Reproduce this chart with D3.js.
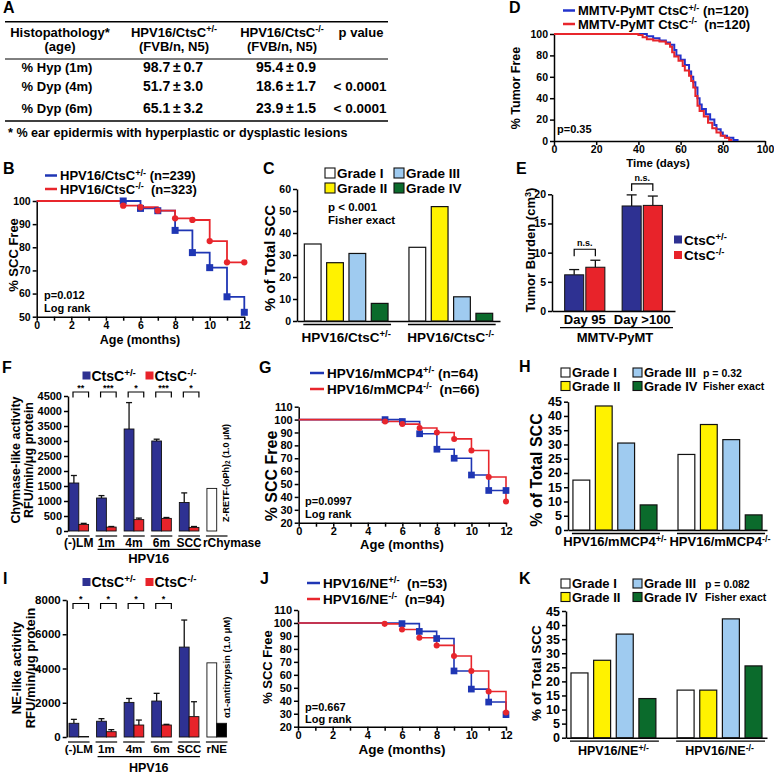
<!DOCTYPE html>
<html>
<head>
<meta charset="utf-8">
<script src="https://cdn.jsdelivr.net/npm/d3@7/dist/d3.min.js"></script>
<style>
html,body{margin:0;padding:0;background:#fff;}
svg{display:block;}
text{font-family:"Liberation Sans",Arial,Helvetica,sans-serif;font-weight:bold;}
</style>
</head>
<body>
<svg id="fig" width="774" height="774" viewBox="0 0 774 774"></svg>
<script>
// ================= DATA =================
// A: histopathology table
const tableHeader1 = ["Histopathology*", "HPV16/CtsC^{+/-}", "HPV16/CtsC^{-/-}", "p value"];
const tableHeader2 = ["(age)", "(FVB/n, N5)", "(FVB/n, N5)", ""];
const tableRowLabels = ["% Hyp (1m)", "% Dyp (4m)", "% Dyp (6m)"];
const tableHetMean = [98.7, 51.7, 65.1];
const tableHetSem = [0.7, 3.0, 3.2];
const tableKoMean = [95.4, 18.6, 23.9];
const tableKoSem = [0.9, 1.7, 1.5];
const tablePValues = ["", "< 0.0001", "< 0.0001"];
const tableFootnote = "* % ear epidermis with hyperplastic or dysplastic lesions";

// shared tick values
const monthTicks = [0,1,2,3,4,5,6,7,8,9,10,11,12];
const scc50Ticks = [50,60,70,80,90,100];
const scc20Ticks = [20,30,40,50,60,70,80,90,100,110];
const pctTicks = [0,20,40,60,80,100];

// B: SCC-free survival, CtsC
const bNames = ["HPV16/CtsC^{+/-} (n=239)", "HPV16/CtsC^{-/-}\u00a0 (n=323)"];
const bMonths = [5,6,7,8,9,10,11,12];
const bHetFree = [100, 96.8, 95.8, 87.3, 77.7, 71.2, 58.6, 51.9];
const bKoFree = [98, 97.3, 95.8, 92.5, 91.8, 82.7, 73.5, 73.5];
const bStats = ["p=0.012", "Log rank"];

// C: SCC grades, CtsC
const gradeNames = ["Grade I", "Grade II", "Grade III", "Grade IV"];
const cGroups = ["HPV16/CtsC^{+/-}", "HPV16/CtsC^{-/-}"];
const cHet = [35, 26.5, 30.7, 8];
const cKo = [33.5, 52, 11, 3.5];
const cTicks = [0,10,20,30,40,50,60];
const cStats = ["p < 0.001", "Fisher exact"];

// D: MMTV-PyMT tumor free
const dNames = ["MMTV-PyMT CtsC^{+/-} (n=120)", "MMTV-PyMT CtsC^{-/-}\u00a0 (n=120)"];
const dHetDays = [44,47,50,53,55,57,58,60,62,64,65,66,67,68,69,70,72,74,76,77,79,80,82,85,87];
const dHetFree = [98,96,94,92,90,85,80,76,71,65,60,55,50,40,34,30,25,20,15,11,8,5,3,1,0];
const dKoDays = [40,42,44,47,50,53,55,56,57,59,61,62,64,65,66,67,68,69,71,73,75,77,79,81,83,84];
const dKoFree = [99,97,95,94,93,91,88,83,79,75,70,66,61,56,50,42,33,28,23,17,12,8,5,3,1,0];
const dStats = ["p=0.35"];

// E: tumor burden
const eGroups = ["Day 95", "Day >100"];
const eHet = [6.2, 18.0];
const eHetErr = [0.9, 1.9];
const eKo = [7.5, 18.1];
const eKoErr = [1.2, 1.6];
const eTicks = [0,5,10,15,20];
const eSig = ["n.s.", "n.s."];
const eLegend = ["CtsC^{+/-}", "CtsC^{-/-}"];

// F: chymase-like activity
const actCats = ["(-)LM", "1m", "4m", "6m", "SCC"];
const fHet = [1600, 1100, 3400, 3000, 950];
const fHetErr = [250, 80, 880, 60, 320];
const fKo = [220, 130, 380, 420, 120];
const fKoErr = [35, 20, 50, 30, 30];
const fStars = ["**", "***", "*", "***", "*"];
const fRefName = "rChymase";
const fRefValue = 1420;
const fRefInhibited = 0;
const fRefNote = "Z-RETF-(oPh)_{2} (1.0 μM)";
const fTicks = [0,500,1000,1500,2000,2500,3000,3500,4000,4500];

// G: SCC-free survival, mMCP4
const gNames = ["HPV16/mMCP4^{+/-} (n=64)", "HPV16/mMCP4^{-/-}\u00a0 (n=66)"];
const gMonths = [5,6,7,8,9,10,11,12];
const gHetFree = [100, 98.5, 89, 77, 70, 57, 45, 45];
const gKoFree = [98.5, 96.5, 93.5, 90, 85, 76, 55.5, 36.5];
const gStats = ["p=0.0997", "Log rank"];

// H: SCC grades, mMCP4
const hGroups = ["HPV16/mMCP4^{+/-}", "HPV16/mMCP4^{-/-}"];
const hHet = [17.5, 43.5, 30.5, 8.8];
const hKo = [26.5, 37, 31.7, 5.3];
const gradeTicks45 = [0,5,10,15,20,25,30,35,40,45];
const hStats = ["p = 0.32", "Fisher exact"];

// I: NE-like activity
const iHet = [800, 920, 2020, 2100, 5250];
const iHetErr = [230, 150, 230, 450, 1580];
const iKo = [30, 310, 700, 700, 1190];
const iKoErr = [0, 120, 290, 40, 870];
const iStars = ["*", "*", "*", "*", ""];
const iRefName = "rNE";
const iRefValue = 4330;
const iRefInhibited = 800;
const iRefNote = "α1-antitrypsin (1.0 μM)";
const iTicks = [0,2000,4000,6000,8000];

// J: SCC-free survival, NE
const jNames = ["HPV16/NE^{+/-}\u00a0 (n=53)", "HPV16/NE^{-/-}\u00a0 (n=94)"];
const jHetMonths = [6,7,8,9,10,11,12];
const jHetFree = [99.5, 93.5, 88, 63, 49, 39, 29.3];
const jKoMonths = [5,6,7,8,9,10,11,12];
const jKoFree = [99.3, 95, 88.6, 82.7, 74.5, 63, 47.2, 31];
const jStats = ["p=0.667", "Log rank"];

// K: SCC grades, NE
const kGroups = ["HPV16/NE^{+/-}", "HPV16/NE^{-/-}"];
const kHet = [23, 27.5, 36.8, 13.9];
const kKo = [16.9, 16.9, 42.2, 25.5];
const kStats = ["p = 0.082", "Fisher exact"];

// ================= STYLE =================
const KM_BLUE = "#1f36b4", KM_RED = "#e8262c";
const BAR_BLUE = "#2e3192", BAR_RED = "#e8232a";
const GRADE_COLORS = ["#ffffff", "#fff200", "#9fcbf0", "#0b6b2c"];

const svg = d3.select("#fig");

function addRich(t, str, fs) {
  const parts = str.split(/(\^\{[^}]*\}|_\{[^}]*\})/).filter(s => s.length);
  let cur = 0;
  parts.forEach(p => {
    let target = 0, txt = p, size = null;
    if (p.startsWith("^{")) { target = -0.34 * fs; txt = p.slice(2, -1); size = fs * 0.7; }
    else if (p.startsWith("_{")) { target = 0.22 * fs; txt = p.slice(2, -1); size = fs * 0.7; }
    const ts = t.append("tspan").text(txt);
    if (size) ts.attr("font-size", size);
    const dy = target - cur;
    if (dy !== 0) ts.attr("dy", dy);
    cur = target;
  });
}
function label(x, y, str, o = {}) {
  const fs = o.fs || 12;
  const t = svg.append("text").attr("x", x).attr("y", y).attr("font-size", fs)
    .attr("text-anchor", o.anchor || "start").attr("fill", o.fill || "#000");
  if (o.rot) t.attr("transform", `rotate(${o.rot},${x},${y})`);
  addRich(t, str, fs);
  return t;
}
function hline(x1, x2, y, w = 1.2, c = "#000") {
  svg.append("line").attr("x1", x1).attr("x2", x2).attr("y1", y).attr("y2", y).attr("stroke", c).attr("stroke-width", w);
}
function styleAxis(g, fs) {
  g.attr("font-size", fs).attr("font-family", null);
  g.select(".domain").attr("stroke", "#000").attr("stroke-width", 1.5);
  g.selectAll(".tick line").attr("stroke", "#000").attr("stroke-width", 1.5);
  g.selectAll(".tick text").attr("fill", "#000");
  g.selectAll(".tick text").filter(function () { return this.textContent === ""; }).remove();
}
function axisLeftAt(x, scale, ticks, fs, fmt) {
  const g = svg.append("g").attr("transform", `translate(${x},0)`)
    .call(d3.axisLeft(scale).tickValues(ticks).tickSize(4).tickSizeOuter(0).tickPadding(2).tickFormat(fmt || (d => String(d))));
  styleAxis(g, fs); return g;
}
function axisBottomAt(y, scale, ticks, fs, fmt, pad) {
  const g = svg.append("g").attr("transform", `translate(0,${y})`)
    .call(d3.axisBottom(scale).tickValues(ticks).tickSize(4).tickSizeOuter(0).tickPadding(pad === undefined ? 2 : pad).tickFormat(fmt || (d => String(d))));
  styleAxis(g, fs); return g;
}
function panelLetter(x, y, s) { label(x, y, s, { fs: 16 }); }

// ================= A: TABLE =================
panelLetter(3, 13, "A");
(function () {
  const colX = [60, 174, 282, 361];
  hline(5, 388, 21.7, 1.6);
  tableHeader1.forEach((h, i) => label(colX[i], 36.5, h, { fs: 13, anchor: "middle" }));
  tableHeader2.forEach((h, i) => { if (h) label(colX[i], 51, h, { fs: 13, anchor: "middle" }); });
  hline(5, 388, 59, 1);
  const rowY = [72, 91, 113];
  tableRowLabels.forEach((r, i) => {
    label(57, rowY[i], r, { fs: 13, anchor: "middle" });
    label(173, rowY[i], `${tableHetMean[i].toFixed(1)}\u2009±\u2009${tableHetSem[i].toFixed(1)}`, { fs: 14, anchor: "middle" });
    label(286, rowY[i], `${tableKoMean[i].toFixed(1)}\u2009±\u2009${tableKoSem[i].toFixed(1)}`, { fs: 14, anchor: "middle" });
    if (tablePValues[i]) label(360, rowY[i], tablePValues[i], { fs: 13.5, anchor: "middle" });
  });
  hline(5, 388, 121, 1.6);
  label(8, 137, tableFootnote, { fs: 12.6 });
})();

// ================= KM panels =================
function kmPanel(c) {
  const x = d3.scaleLinear().domain(c.xDomain).range([c.left, c.right]);
  const y = d3.scaleLinear().domain(c.yDomain).range([c.bottom, c.top]);
  axisBottomAt(c.bottom, x, c.xTicks, c.tickFs, d => (c.labelEvery && d % c.labelEvery) ? "" : String(d), 1);
  axisLeftAt(c.left, y, c.yTicks, c.tickFs);
  const line = d3.line().x(d => x(d[0])).y(d => y(d[1])).curve(d3.curveStepAfter);
  c.series.forEach(s => {
    const pts = [[c.xDomain[0], 100]].concat(s.t.map((t, i) => [t, s.v[i]]));
    svg.append("path").attr("d", line(pts)).attr("fill", "none").attr("stroke", s.color).attr("stroke-width", c.lw);
  });
  c.series.forEach(s => {
    if (!s.marker) return;
    s.t.forEach((t, i) => {
      if (s.marker === "square")
        svg.append("rect").attr("x", x(t) - c.ms / 2).attr("y", y(s.v[i]) - c.ms / 2)
          .attr("width", c.ms).attr("height", c.ms).attr("fill", s.color);
      else
        svg.append("circle").attr("cx", x(t)).attr("cy", y(s.v[i])).attr("r", c.ms * 0.45).attr("fill", s.color);
    });
  });
  c.series.forEach((s, i) => {
    const ly = c.legendY[i];
    hline(c.legendX[0], c.legendX[1], ly, 2.5, s.color);
    label(c.legendX[1] + 3, ly + c.legendFs * 0.36, s.name, { fs: c.legendFs });
  });
  c.stats.forEach((s, i) => label(c.statsX, c.statsY[i], s, { fs: c.statsFs }));
  label(c.yLabelX, c.yLabelY, c.yLabel, { fs: c.yLabelFs, anchor: "middle", rot: -90 });
  label(c.xLabelX, c.xLabelY, c.xLabel, { fs: c.xLabelFs, anchor: "middle" });
}

panelLetter(3, 174, "B");
kmPanel({
  left: 36.7, right: 244.3, top: 201, bottom: 316.7, xDomain: [0, 12], yDomain: [50, 100],
  xTicks: monthTicks, labelEvery: 2, yTicks: scc50Ticks, tickFs: 10.5, lw: 1.8, ms: 7,
  series: [
    { name: bNames[0], t: bMonths, v: bHetFree, color: KM_BLUE, marker: "square" },
    { name: bNames[1], t: bMonths, v: bKoFree, color: KM_RED, marker: "circle" }],
  legendX: [45, 57], legendY: [175.5, 189], legendFs: 13,
  stats: bStats, statsX: 44, statsY: [299, 311.5], statsFs: 11,
  yLabel: "% SCC Free", yLabelX: 18, yLabelY: 255, yLabelFs: 13,
  xLabel: "Age (months)", xLabelX: 140, xLabelY: 343.5, xLabelFs: 12.5
});

panelLetter(509, 13, "D");
kmPanel({
  left: 554, right: 765, top: 34, bottom: 141, xDomain: [0, 100], yDomain: [0, 100],
  xTicks: pctTicks, yTicks: pctTicks, tickFs: 10.5, lw: 2, ms: 0,
  series: [
    { name: dNames[0], t: dHetDays, v: dHetFree, color: "#2233cc" },
    { name: dNames[1], t: dKoDays, v: dKoFree, color: KM_RED }],
  legendX: [563, 575], legendY: [10.5, 24], legendFs: 13,
  stats: dStats, statsX: 557, statsY: [133], statsFs: 11,
  yLabel: "% Tumor Free", yLabelX: 520, yLabelY: 88, yLabelFs: 12.5,
  xLabel: "Time (days)", xLabelX: 658, xLabelY: 167, xLabelFs: 11.5
});

panelLetter(259, 373, "G");
kmPanel({
  left: 298.7, right: 506, top: 406.7, bottom: 522.7, xDomain: [0, 12], yDomain: [20, 110],
  xTicks: monthTicks, labelEvery: 2, yTicks: scc20Ticks, tickFs: 11, lw: 1.6, ms: 6.7,
  series: [
    { name: gNames[0], t: gMonths, v: gHetFree, color: KM_BLUE, marker: "square" },
    { name: gNames[1], t: gMonths, v: gKoFree, color: KM_RED, marker: "circle" }],
  legendX: [310, 324], legendY: [373, 389], legendFs: 13.5,
  stats: gStats, statsX: 305, statsY: [505, 518], statsFs: 11,
  yLabel: "% SCC Free", yLabelX: 277, yLabelY: 476, yLabelFs: 16,
  xLabel: "Age (months)", xLabelX: 402, xLabelY: 549, xLabelFs: 13
});

panelLetter(260, 584, "J");
kmPanel({
  left: 298, right: 506, top: 610, bottom: 726.7, xDomain: [0, 12], yDomain: [20, 110],
  xTicks: monthTicks, labelEvery: 2, yTicks: scc20Ticks, tickFs: 11, lw: 1.6, ms: 6.7,
  series: [
    { name: jNames[0], t: jHetMonths, v: jHetFree, color: KM_BLUE, marker: "square" },
    { name: jNames[1], t: jKoMonths, v: jKoFree, color: KM_RED, marker: "circle" }],
  legendX: [307, 320], legendY: [583, 599], legendFs: 13.5,
  stats: jStats, statsX: 305, statsY: [711, 723], statsFs: 11,
  yLabel: "% SCC Free", yLabelX: 272, yLabelY: 667, yLabelFs: 13,
  xLabel: "Age (months)", xLabelX: 402, xLabelY: 754, xLabelFs: 13.5
});

// ================= Grade panels =================
function gradePanel(c) {
  const y = d3.scaleLinear().domain([0, c.yMax]).range([c.bottom, c.top]);
  const xg = d3.scaleBand().domain(c.groups).range([c.left, c.right]).paddingInner(0.2).paddingOuter(c.pO);
  const xb = d3.scaleBand().domain(gradeNames).range([0, xg.bandwidth()]).paddingInner(0.25);
  axisBottomAt(c.bottom, xg, [], c.tickFs);
  axisLeftAt(c.left, y, c.ticks, c.tickFs);
  c.groups.forEach((g, gi) => {
    const vals = c.values[gi];
    gradeNames.forEach((gr, i) => {
      svg.append("rect").attr("x", xg(g) + xb(gr)).attr("y", y(vals[i]))
        .attr("width", xb.bandwidth()).attr("height", y(0) - y(vals[i]))
        .attr("fill", GRADE_COLORS[i]).attr("stroke", "#111").attr("stroke-width", 1.2);
    });
    hline(xg(g) - 1, xg(g) + xg.bandwidth() + 3, c.bottom + 3.5, 1.3);
    label(xg(g) + xg.bandwidth() / 2, c.labelY, g, { fs: c.labelFs, anchor: "middle" });
  });
  gradeNames.forEach((gr, i) => {
    const bx = c.legendCols[Math.floor(i / 2)], by = c.legendRows[i % 2];
    svg.append("rect").attr("x", bx).attr("y", by - c.box / 2).attr("width", c.box).attr("height", c.box)
      .attr("fill", GRADE_COLORS[i]).attr("stroke", "#111").attr("stroke-width", 1.1);
    label(bx + c.box + 2, by + c.legendFs * 0.36, gr, { fs: c.legendFs });
  });
  c.stats.forEach((s, i) => label(c.statsX, c.statsY[i], s, { fs: c.statsFs }));
  label(c.yLabelX, c.yLabelY, "% of Total SCC", { fs: c.yLabelFs, anchor: "middle", rot: -90 });
}

panelLetter(263, 174, "C");
gradePanel({
  groups: cGroups, values: [cHet, cKo], yMax: 60, ticks: cTicks,
  left: 297, right: 500, top: 189, bottom: 321, pO: 0.07, tickFs: 10.5,
  labelY: 342, labelFs: 13.5,
  legendCols: [325, 394], legendRows: [173, 188], box: 10, legendFs: 13.5,
  stats: cStats, statsX: 328, statsY: [211, 223.5], statsFs: 11.5,
  yLabelX: 275, yLabelY: 258, yLabelFs: 15
});

panelLetter(519, 372, "H");
gradePanel({
  groups: hGroups, values: [hHet, hKo], yMax: 45, ticks: gradeTicks45,
  left: 568, right: 767, top: 401.7, bottom: 530, pO: 0.047, tickFs: 12.5,
  labelY: 546, labelFs: 13,
  legendCols: [561, 633], legendRows: [372.5, 386], box: 9, legendFs: 13,
  stats: hStats, statsX: 703, statsY: [377, 389.5], statsFs: 10.5,
  yLabelX: 542, yLabelY: 470, yLabelFs: 16
});

panelLetter(519, 584, "K");
gradePanel({
  groups: kGroups, values: [kHet, kKo], yMax: 45, ticks: gradeTicks45,
  left: 566, right: 767, top: 611, bottom: 737.7, pO: 0.047, tickFs: 12.5,
  labelY: 755, labelFs: 12.5,
  legendCols: [561, 633], legendRows: [583.5, 597], box: 9, legendFs: 13,
  stats: kStats, statsX: 705, statsY: [588, 600.5], statsFs: 10.5,
  yLabelX: 541, yLabelY: 673, yLabelFs: 13.5
});

// ================= E: tumor burden =================
panelLetter(516, 174, "E");
(function () {
  const y = d3.scaleLinear().domain([0, 20]).range([311, 194.3]);
  const xg = d3.scaleBand().domain(eGroups).range([552, 675]).paddingInner(0.3).paddingOuter(0.22);
  const xs = d3.scaleBand().domain(["het", "ko"]).range([0, xg.bandwidth()]).paddingInner(0.1);
  axisBottomAt(311, xg, [], 10.5);
  axisLeftAt(552, y, eTicks, 10.5);
  eGroups.forEach((g, i) => {
    const series = [["het", eHet[i], eHetErr[i], BAR_BLUE], ["ko", eKo[i], eKoErr[i], BAR_RED]];
    series.forEach(([k, v, e, col]) => {
      const cx = xg(g) + xs(k) + xs.bandwidth() / 2;
      svg.append("line").attr("x1", cx).attr("x2", cx).attr("y1", y(v)).attr("y2", y(v + e)).attr("stroke", "#111").attr("stroke-width", 1.3);
      hline(cx - 5, cx + 5, y(v + e), 1.3, "#111");
      svg.append("rect").attr("x", xg(g) + xs(k)).attr("y", y(v)).attr("width", xs.bandwidth()).attr("height", y(0) - y(v))
        .attr("fill", col).attr("stroke", "#111").attr("stroke-width", 1);
    });
    const c1 = xg(g) + xs("het") + xs.bandwidth() / 2, c2 = xg(g) + xs("ko") + xs.bandwidth() / 2;
    const top = y(Math.max(eHet[i] + eHetErr[i], eKo[i] + eKoErr[i])) - 11;
    svg.append("path").attr("d", `M${c1},${top + 7}V${top}H${c2}V${top + 7}`).attr("fill", "none").attr("stroke", "#000").attr("stroke-width", 1.2);
    label((c1 + c2) / 2, top - 3, eSig[i], { fs: 9, anchor: "middle" });
    label(xg(g) + xg.bandwidth() / 2, 323.5, g, { fs: 13, anchor: "middle" });
  });
  hline(560, 673, 327.7, 1.3);
  label(615, 341.5, "MMTV-PyMT", { fs: 13, anchor: "middle" });
  [BAR_BLUE, BAR_RED].forEach((col, i) => {
    const ly = 239.5 + i * 15.5;
    svg.append("rect").attr("x", 674).attr("y", ly - 4).attr("width", 8).attr("height", 8).attr("fill", col);
    label(684, ly + 5, eLegend[i], { fs: 13.5 });
  });
  label(535, 250, "Tumor Burden (cm^{3})", { fs: 13, anchor: "middle", rot: -90 });
})();

// ================= F & I: activity panels =================
function activityPanel(c) {
  const y = d3.scaleLinear().domain([0, c.yMax]).range([c.bottom, c.top]);
  const cats = actCats.concat([c.refName]);
  const xg = d3.scaleBand().domain(cats).range([68, 227.5]).paddingInner(0.29).paddingOuter(0.036);
  const xs = d3.scaleBand().domain(["het", "ko"]).range([0, xg.bandwidth()]);
  axisLeftAt(c.axisX, y, c.ticks, c.tickFs);
  function bar(cat, k, v, e, col) {
    const x0 = xg(cat) + xs(k), cx = x0 + xs.bandwidth() / 2;
    if (e > 0) {
      svg.append("line").attr("x1", cx).attr("x2", cx).attr("y1", y(v)).attr("y2", y(v + e)).attr("stroke", "#111").attr("stroke-width", 1.3);
      hline(cx - 3, cx + 3, y(v + e), 1.3, "#111");
    }
    if (v > 0) svg.append("rect").attr("x", x0).attr("y", y(v)).attr("width", xs.bandwidth()).attr("height", y(0) - y(v))
      .attr("fill", col).attr("stroke", "#111").attr("stroke-width", 0.9);
  }
  actCats.forEach((cat, i) => {
    bar(cat, "het", c.het[i], c.hetErr[i], BAR_BLUE);
    bar(cat, "ko", c.ko[i], c.koErr[i], BAR_RED);
    if (c.stars[i]) {
      const x1 = xg(cat) + 4, x2 = xg(cat) + xg.bandwidth();
      svg.append("path").attr("d", `M${x1},${c.brY + 5.5}V${c.brY}H${x2}V${c.brY + 5.5}`).attr("fill", "none").attr("stroke", "#000").attr("stroke-width", 1.2);
      label((x1 + x2) / 2, c.brY - 1.5, c.stars[i], { fs: 9, anchor: "middle" });
    }
  });
  bar(c.refName, "het", c.refValue, 0, "#ffffff");
  bar(c.refName, "ko", c.refInhibited, 0, "#000000");
  cats.forEach(cat => {
    hline(xg(cat) - 1, xg(cat) + xg.bandwidth() + 1, c.bottom + 5, 1.2);
    if (cat === "rChymase") label(xg(cat) - 4, c.bottom + 16, cat, { fs: c.catFs });
    else label(xg(cat) + xg.bandwidth() / 2, c.bottom + 16, cat, { fs: c.catFs, anchor: "middle" });
  });
  hline(xg("1m") + 1, xg("SCC") + xg.bandwidth() + 1, c.bottom + c.hpvLineOff, 1.2);
  label((xg("1m") + xg("SCC") + xg.bandwidth()) / 2 + 1, c.bottom + c.hpvTextOff, "HPV16", { fs: c.hpvFs, anchor: "middle" });
  label(c.noteX, c.noteY, c.note, { fs: c.noteFs, rot: -90 });
  [[BAR_BLUE, "CtsC^{+/-}", 82.5], [BAR_RED, "CtsC^{-/-}", 145.5]].forEach(([col, txt, lx]) => {
    svg.append("rect").attr("x", lx).attr("y", c.legendY - 4).attr("width", 8).attr("height", 8).attr("fill", col);
    label(lx + 9, c.legendY + 5, txt, { fs: 14 });
  });
  label(c.yl1X, c.yLabelY, c.yLabel1, { fs: c.yLabelFs, anchor: "middle", rot: -90 });
  label(c.yl2X, c.yLabelY, c.yLabel2, { fs: c.yLabelFs, anchor: "middle", rot: -90 });
}

panelLetter(2, 373, "F");
activityPanel({
  yMax: 4500, top: 396, bottom: 531, axisX: 68, ticks: fTicks, tickFs: 11,
  het: fHet, hetErr: fHetErr, ko: fKo, koErr: fKoErr, stars: fStars, brY: 392,
  refName: fRefName, refValue: fRefValue, refInhibited: fRefInhibited,
  catFs: 12, hpvLineOff: 18.3, hpvTextOff: 32, hpvFs: 13,
  note: fRefNote, noteX: 228.5, noteY: 522, noteFs: 9,
  legendY: 375.5,
  yLabel1: "Chymase-like activity", yLabel2: "RFU/min/μg protein", yl1X: 20, yl2X: 33.3, yLabelY: 460, yLabelFs: 12.5
});

panelLetter(3, 584, "I");
activityPanel({
  yMax: 8000, top: 600, bottom: 737, axisX: 66.7, ticks: iTicks, tickFs: 11.5,
  het: iHet, hetErr: iHetErr, ko: iKo, koErr: iKoErr, stars: iStars, brY: 603.5,
  refName: iRefName, refValue: iRefValue, refInhibited: iRefInhibited,
  catFs: 11.5, hpvLineOff: 19.7, hpvTextOff: 34.5, hpvFs: 12.5,
  note: iRefNote, noteX: 230, noteY: 718, noteFs: 9.5,
  legendY: 582,
  yLabel1: "NE-like activity", yLabel2: "RFU/min/μg protein", yl1X: 21, yl2X: 35, yLabelY: 668, yLabelFs: 13
});
</script>
</body>
</html>
